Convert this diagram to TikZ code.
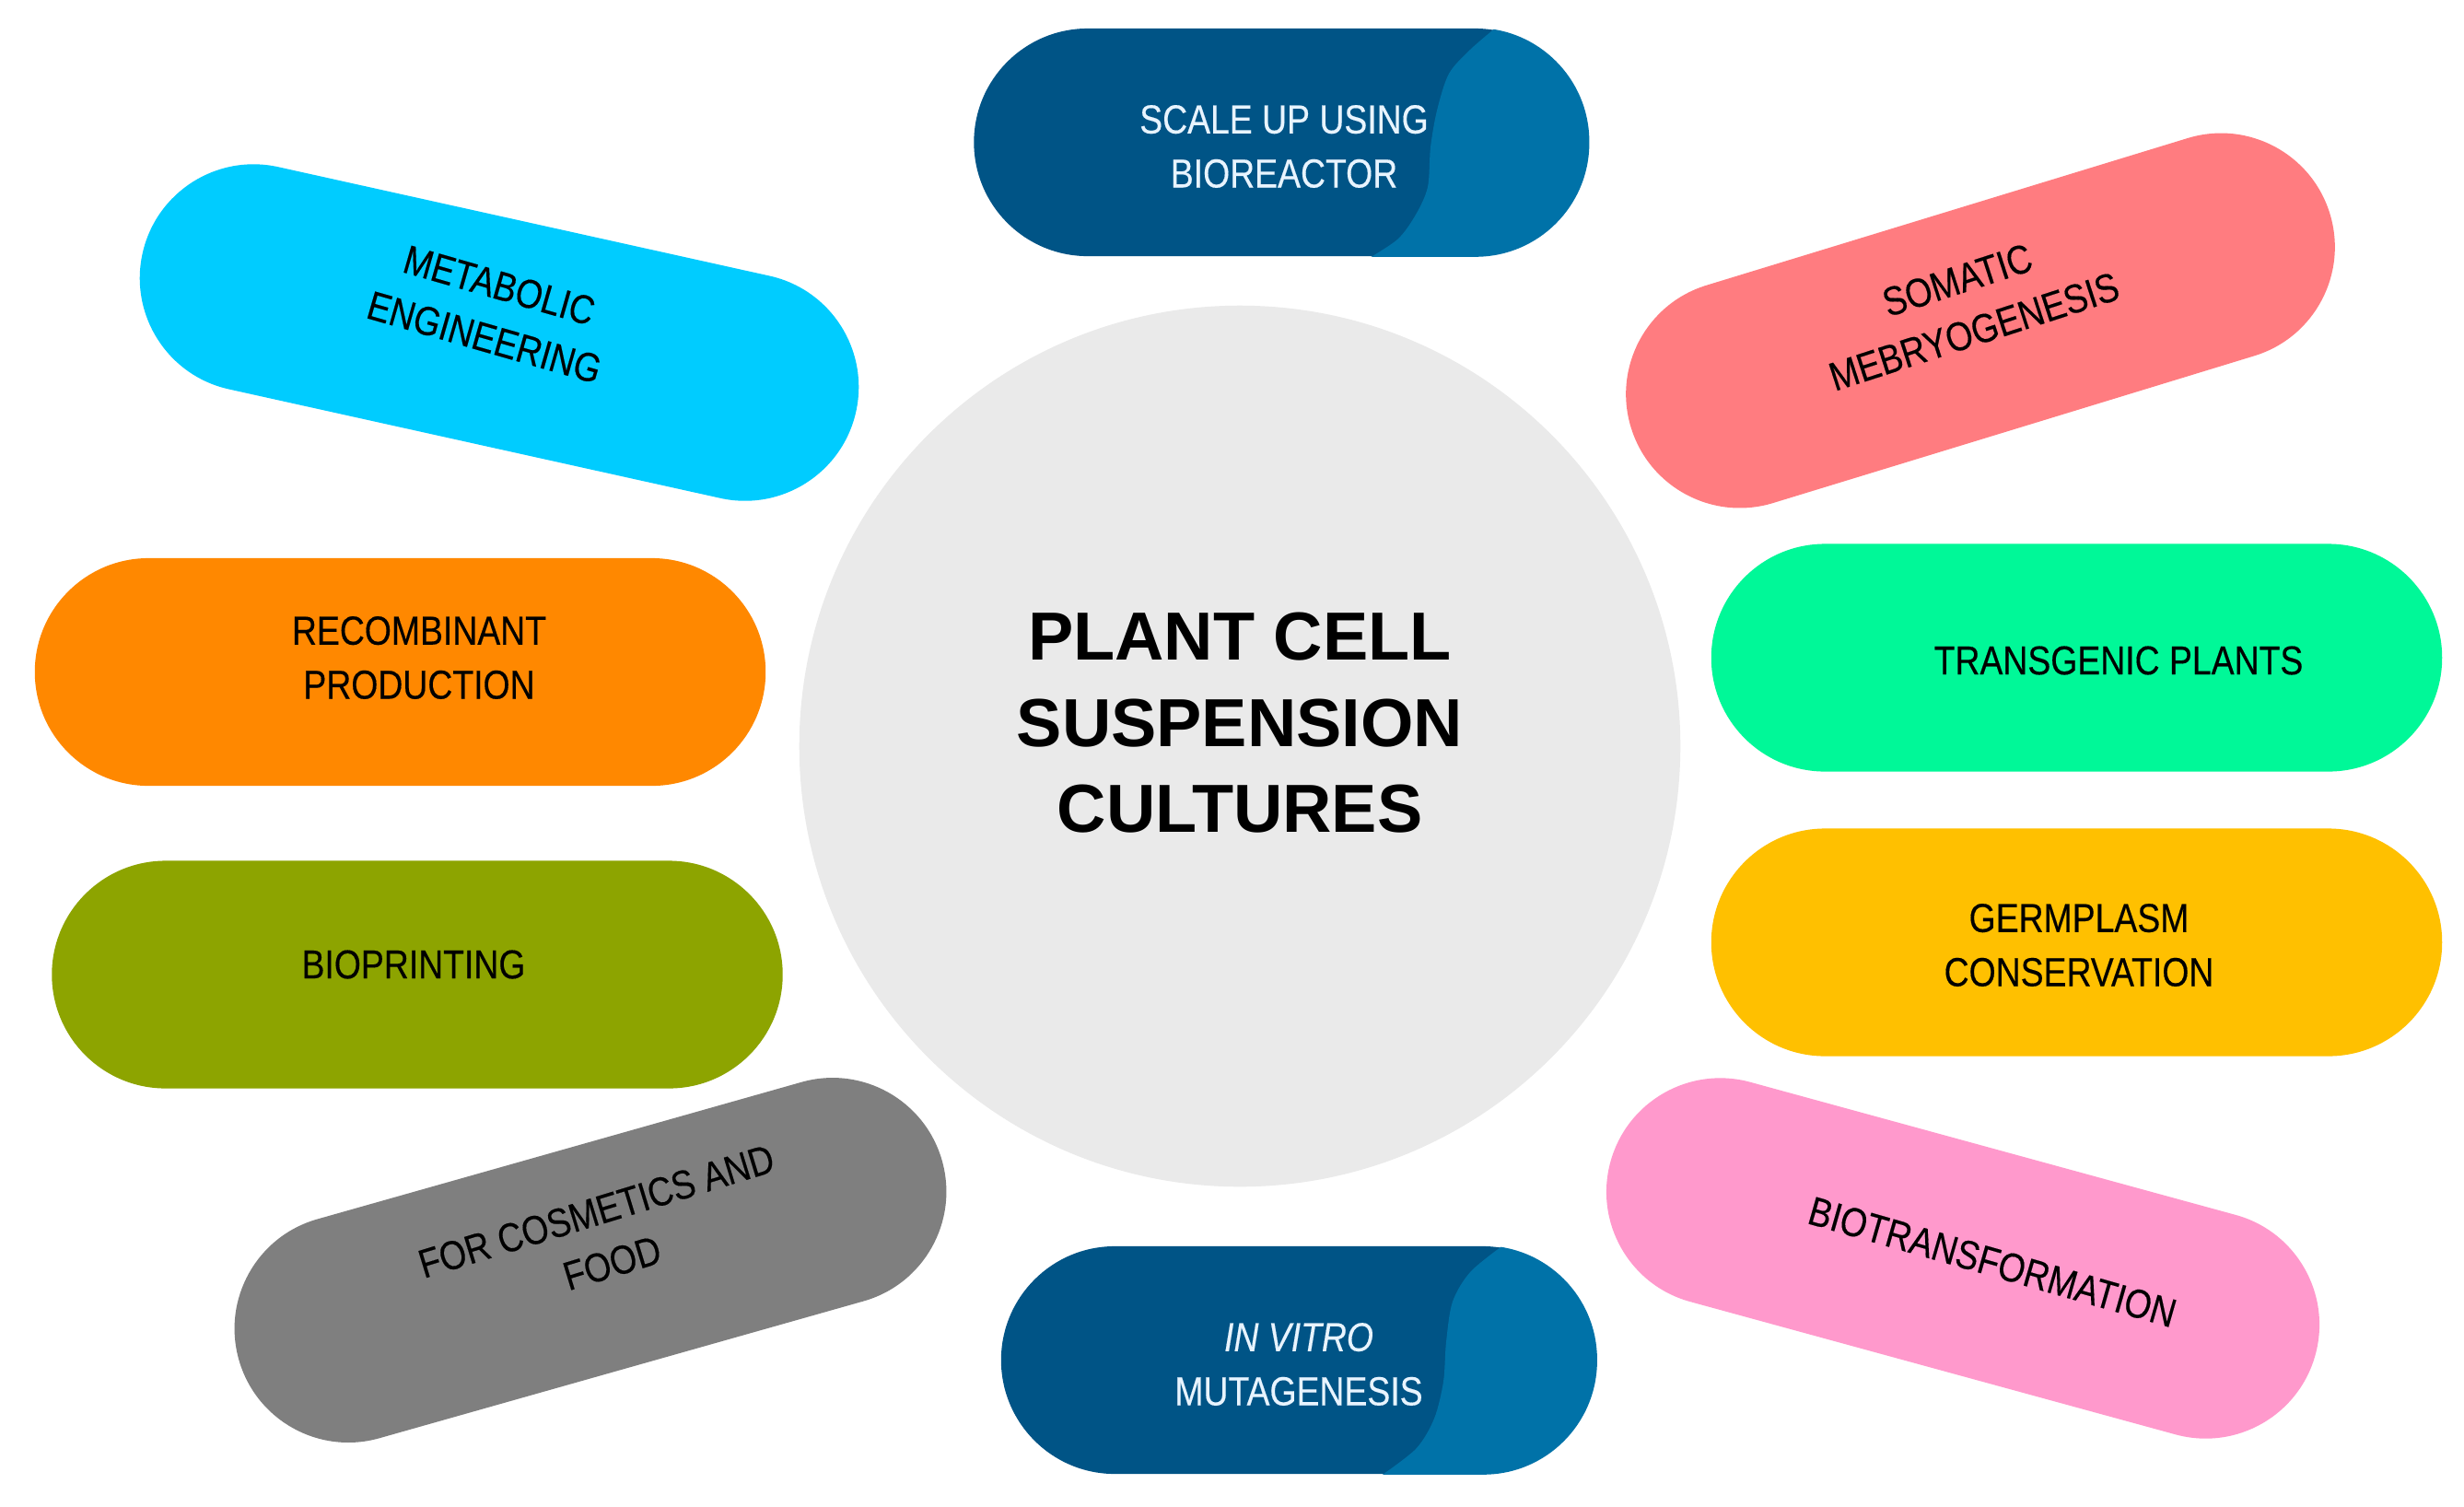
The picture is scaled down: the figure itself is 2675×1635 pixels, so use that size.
\documentclass[tikz,border=0pt]{standalone}
\usepackage{fontspec}
\setmainfont{Liberation Sans}
\newfontfamily\narrowfont[FakeStretch=0.85,FakeBold=0.3]{Liberation Sans}
\definecolor{bluedark}{RGB}{0,84,134}
\definecolor{bluelight}{RGB}{0,114,168}
\definecolor{cyanpill}{RGB}{0,204,255}
\definecolor{salmonpill}{RGB}{255,124,128}
\definecolor{greenpill}{RGB}{0,248,152}
\definecolor{yellowpill}{RGB}{255,192,0}
\definecolor{orangepill}{RGB}{255,136,0}
\definecolor{olivepill}{RGB}{141,164,0}
\definecolor{graypill}{RGB}{127,127,127}
\definecolor{pinkpill}{RGB}{255,153,204}
\definecolor{hubgray}{RGB}{234,234,234}
\definecolor{lighttext}{RGB}{232,244,255}
\begin{document}
\begin{tikzpicture}[x=0.01cm,y=-0.01cm,
  pill/.style={rectangle, rounded corners=1.235cm, minimum width=7.93cm,
    minimum height=2.47cm, inner sep=0pt, draw=none},
  lbl/.style={font=\narrowfont\fontsize{12.5}{16.7}\selectfont, align=center,
    text=black, inner sep=0pt},
  hubtext/.style={font=\bfseries\fontsize{21}{26.6}\selectfont, align=center,
    text=black, inner sep=0pt}
]
\useasboundingbox (0,0) rectangle (2675,1635);
\fill[white] (0,0) rectangle (2675,1635);

% centre
\node[circle, fill=hubgray, minimum size=9.56cm, inner sep=0pt] (hub) at (1346,810) {};
\node[hubtext] (hublbl) at (1346,785) {PLANT CELL\\SUSPENSION\\CULTURES};

% top blue pill
\node[pill, fill=bluedark, minimum width=6.67cm] (scaleup) at (1391,154.5) {};
\begin{scope}
  \clip[rounded corners=1.235cm] (scaleup.north west) rectangle (scaleup.south east);
  \fill[bluelight] plot[smooth] coordinates {(1630,25) (1597,53) (1573,80) (1560,120) (1553,160) (1550,203) (1537,233) (1517,260) (1480,284)}
    -- (1760,284) -- (1760,25) -- cycle;
\end{scope}
\node[lbl, text=lighttext] (scalelbl) at (1394,159) {SCALE UP USING\\BIOREACTOR};

% bottom blue pill
\node[pill, fill=bluedark, minimum width=6.46cm] (vitro) at (1410,1476.5) {};
\begin{scope}
  \clip[rounded corners=1.235cm] (vitro.north west) rectangle (vitro.south east);
  \fill[bluelight] plot[smooth] coordinates {(1637,1348) (1597,1380) (1577,1413) (1570,1457) (1567,1500) (1557,1540) (1537,1573) (1495,1605)}
    -- (1770,1605) -- (1770,1348) -- cycle;
\end{scope}
\node[lbl, text=lighttext] (vitrolbl) at (1410,1481) {\textit{IN VITRO}\\MUTAGENESIS};

% left side
\node[pill, fill=cyanpill, rotate=-12.5] (metab) at (542,361) {};
\node[lbl, rotate=-16] (metablbl) at (534,338) {METABOLIC\\ENGINEERING};

\node[pill, fill=orangepill] (recomb) at (434.5,729.5) {};
\node[lbl] (recomblbl) at (455,714) {RECOMBINANT\\PRODUCTION};

\node[pill, fill=olivepill] (bioprint) at (453,1058) {};
\node[lbl] (bioprintlbl) at (449,1047) {BIOPRINTING};

\node[pill, fill=graypill, rotate=15.8] (cosm) at (641,1368) {};
\node[lbl, rotate=17] (cosmlbl) at (656,1343) {FOR COSMETICS AND\\FOOD};

% right side
\node[pill, fill=salmonpill, rotate=17] (somatic) at (2150,348) {};
\node[lbl, rotate=18] (somaticlbl) at (2134,332) {SOMATIC\\MEBRYOGENESIS};

\node[pill, fill=greenpill] (transg) at (2254.5,714) {};
\node[lbl] (transglbl) at (2300,717) {TRANSGENIC PLANTS};

\node[pill, fill=yellowpill] (germ) at (2254.5,1023) {};
\node[lbl] (germlbl) at (2257,1026) {GERMPLASM\\CONSERVATION};

\node[pill, fill=pinkpill, rotate=-15.3] (biotrans) at (2131,1366) {};
\node[lbl, rotate=-16] (biotranslbl) at (2163,1370) {BIOTRANSFORMATION};
\end{tikzpicture}
\end{document}
